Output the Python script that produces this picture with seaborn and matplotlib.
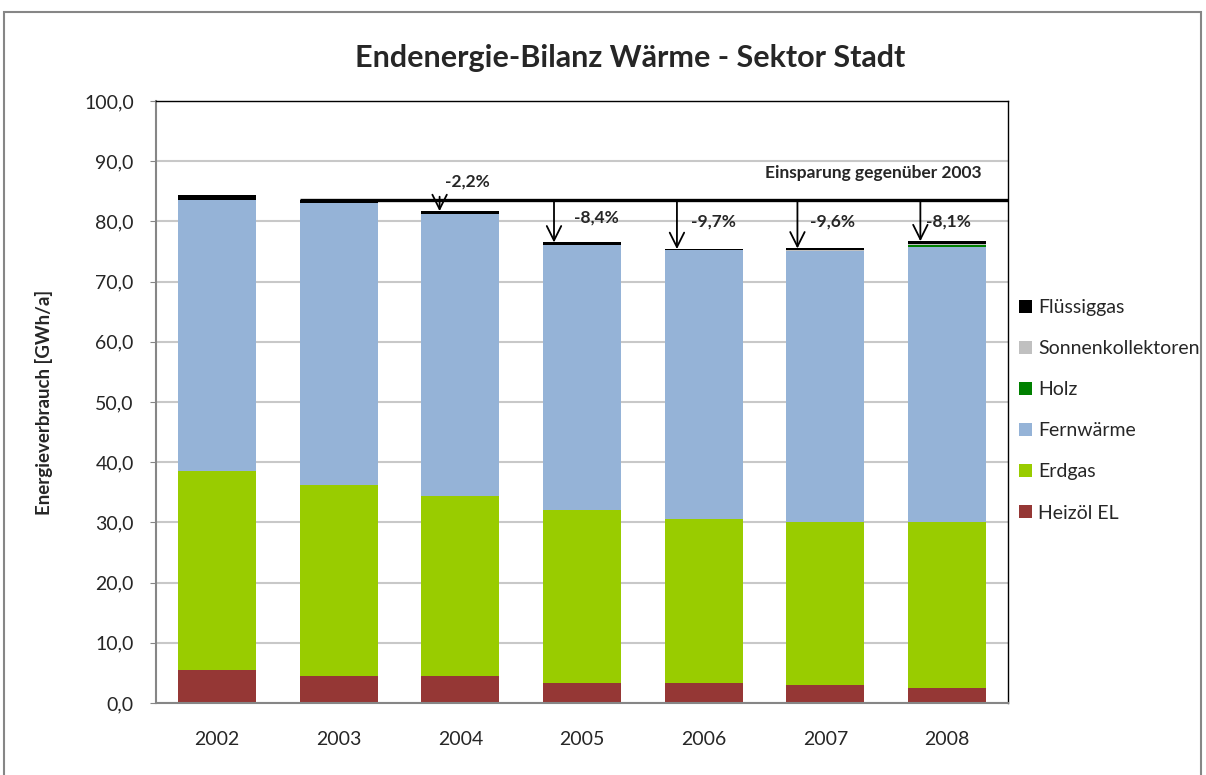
import numpy as np
import pandas as pd
import matplotlib.pyplot as plt
import seaborn as sns
from matplotlib.patches import Patch, Rectangle

# Daten (GWh/a)
jahre = ['2002', '2003', '2004', '2005', '2006', '2007', '2008']
heizoel = [5.5, 4.5, 4.5, 3.4, 3.4, 3.0, 2.5]
erdgas = [33.0, 31.7, 29.9, 28.7, 27.2, 27.0, 27.5]
fernwaerme = [45.0, 46.9, 46.8, 43.9, 44.6, 45.0, 45.8]
holz = [0.0, 0.0, 0.0, 0.0, 0.0, 0.0, 0.3]
sonnenkollektoren = [0.0, 0.0, 0.0, 0.0, 0.0, 0.3, 0.1]
fluessiggas = [0.9, 0.4, 0.5, 0.5, 0.2, 0.2, 0.5]
einsparung = ['-2,2%', '-8,4%', '-9,7%', '-9,6%', '-8,1%']

serien = ['Heizöl EL', 'Erdgas', 'Fernwärme', 'Holz', 'Sonnenkollektoren', 'Flüssiggas']
farben = ['#953735', '#99CC00', '#95B3D7', '#008000', '#C0C0C0', '#000000']

df = pd.DataFrame({'Jahr': jahre, 'Heizöl EL': heizoel, 'Erdgas': erdgas,
                   'Fernwärme': fernwaerme, 'Holz': holz,
                   'Sonnenkollektoren': sonnenkollektoren, 'Flüssiggas': fluessiggas})
kum = df[serien].cumsum(axis=1)
kum['Jahr'] = df['Jahr']
gesamt = kum['Flüssiggas']

sns.set_style('white')
plt.rcParams['font.family'] = ['Lato', 'DejaVu Sans']

fig = plt.figure(figsize=(12.06, 7.75), dpi=100)
ax = fig.add_axes([156 / 1206, 72 / 775, 852 / 1206, 602 / 775])

# gestapelte Balken: kumulierte Summen von oben nach unten zeichnen
for s, c in reversed(list(zip(serien, farben))):
    sns.barplot(data=kum, x='Jahr', y=s, color=c, width=0.64, ax=ax,
                saturation=1, edgecolor='none', zorder=2)

ax.set_ylim(0, 100)
ax.set_xlim(-0.5, 6.5)
ax.set_yticks(np.arange(0, 101, 10))
ax.set_yticklabels([f'{v:.1f}'.replace('.', ',') for v in np.arange(0, 101, 10)], fontsize=14)
ax.tick_params(axis='x', labelsize=14, length=0, pad=20)
ax.tick_params(axis='y', length=4, color='#868686', pad=12, left=True)
ax.yaxis.grid(True, color='#c8c8c8', lw=1.5, zorder=0)
ax.set_axisbelow(True)
ax.set_xlabel('')
ax.set_ylabel('Energieverbrauch [GWh/a]', fontsize=13.5, fontweight='bold', labelpad=22)
for side in ['left', 'bottom']:
    ax.spines[side].set_color('#868686')
    ax.spines[side].set_linewidth(1.5)
for side in ['top', 'right']:
    ax.spines[side].set_color('#000000')
    ax.spines[side].set_linewidth(1.0)

# Referenzlinie 2003
ref = gesamt[1]
ax.hlines(ref, 1 - 0.32, 6.5, color='black', lw=2.4, zorder=4, clip_on=False)
ax.text(6.28, ref + 4.6, 'Einsparung gegenüber 2003', ha='right', va='center',
        fontsize=12.5, fontweight='bold')

# Pfeile und Prozentwerte
pfeil_dx = [-0.17, -0.23, -0.22, -0.23, -0.22]
text_dx = [0.06, 0.12, 0.08, 0.06, 0.01]
text_y = [ref + 3.2, 80.6, 79.9, 79.9, 79.9]
for i, (lab, pdx, tdx, ty) in enumerate(zip(einsparung, pfeil_dx, text_dx, text_y)):
    xi = i + 2
    ax.annotate('', xy=(xi + pdx, gesamt[xi]), xytext=(xi + pdx, ref + (0.6 if i == 0 else 0)),
                arrowprops=dict(arrowstyle='->', color='black', lw=1.3,
                                shrinkA=0, shrinkB=0, mutation_scale=26), zorder=5)
    ax.text(xi + tdx, ty, lab, ha='center', va='center', fontsize=12.5, fontweight='bold', zorder=6)

fig.text(630 / 1206, 1 - 58 / 775, 'Endenergie-Bilanz Wärme - Sektor Stadt',
         ha='center', va='center', fontsize=22, fontweight='bold')

handles = [Patch(facecolor=c, edgecolor='none', label=s)
           for s, c in reversed(list(zip(serien, farben)))]
fig.legend(handles=handles, loc='upper left', bbox_to_anchor=(1019 / 1206, 1 - 299 / 775),
           frameon=False, fontsize=14, handlelength=0.65, handleheight=0.65,
           handletextpad=0.35, labelspacing=1.24, borderaxespad=0, borderpad=0)

# Rahmen um das Diagramm
fig.patches.append(Rectangle((4 / 1206, -0.01), 1197 / 1206, 1 - 12 / 775 + 0.01,
                             transform=fig.transFigure, fill=False,
                             edgecolor='#868686', lw=1.5))

fig.savefig('out.png', dpi=100)
